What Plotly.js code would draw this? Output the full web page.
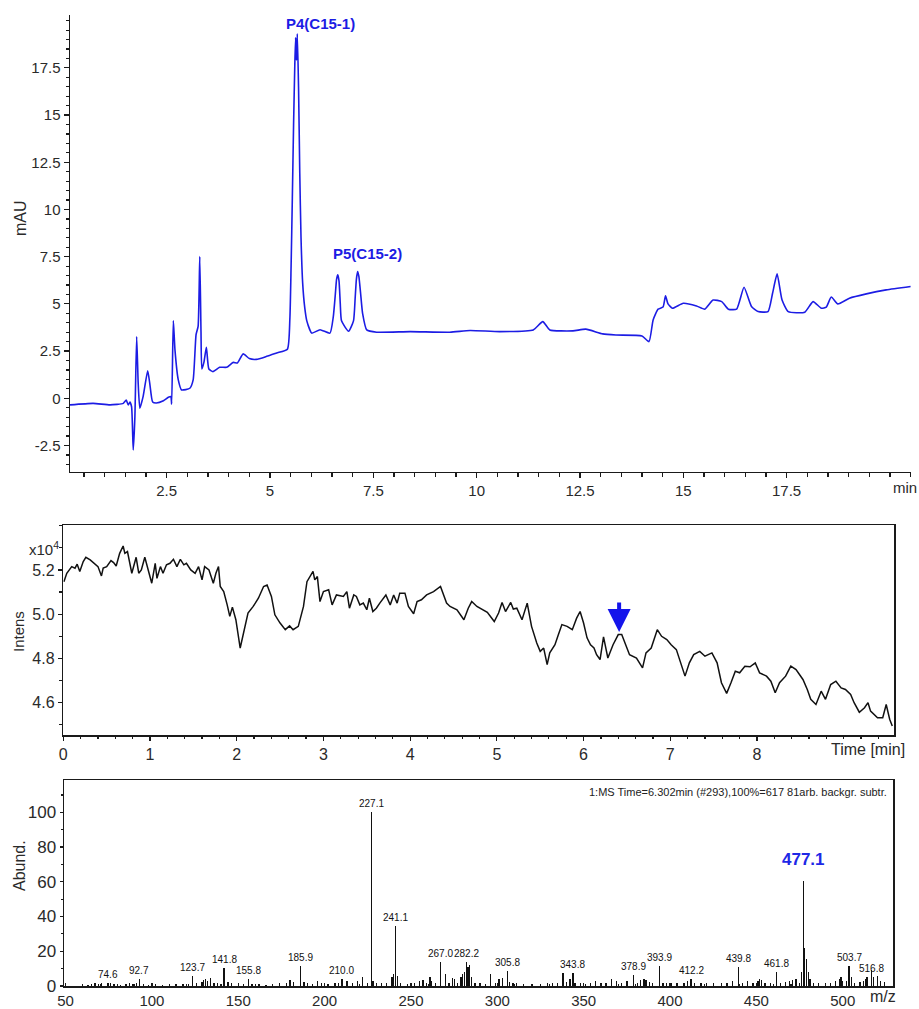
<!DOCTYPE html>
<html><head><meta charset="utf-8">
<script src="https://cdn.plot.ly/plotly-3.0.1.min.js"></script>
<style>html,body{margin:0;padding:0;background:#fff}#chart{width:919px;height:1009px}</style>
</head><body><div id="chart"></div>
<script>
// ---- Panel 1: UV chromatogram (mAU vs min) ----
const uvTime = [0.16,0.72,1.13,1.45,1.52,1.57,1.61,1.65,1.69,1.73,1.773,1.81,1.85,1.93,2.04,2.09,2.16,2.25,2.42,2.54,2.60,2.62,2.66,2.70,2.78,2.86,3.06,3.14,3.21,3.26,3.30,3.33,3.35,3.40,3.46,3.52,3.62,3.78,3.95,4.11,4.21,4.35,4.50,4.67,4.92,5.16,5.42,5.48,5.51,5.54,5.57,5.60,5.62,5.64,5.66,5.69,5.72,5.75,5.79,5.84,5.89,6.01,6.21,6.45,6.53,6.58,6.61,6.64,6.67,6.70,6.73,6.90,7.02,7.06,7.09,7.12,7.15,7.19,7.24,7.34,7.58,8.39,9.35,9.84,10.56,11.37,11.6,11.77,12.33,12.64,13.05,13.37,14.0,14.17,14.27,14.39,14.51,14.57,14.63,14.74,15.0,15.32,15.52,15.72,15.93,16.09,16.29,16.47,16.65,16.81,17.05,17.16,17.27,17.39,17.54,17.94,18.14,18.34,18.46,18.58,18.74,19.02,19.43,19.91,20.5];
const uvAbs = [-0.35,-0.27,-0.35,-0.27,-0.1,-0.36,-0.2,-0.45,-2.74,-1.0,3.27,0.8,-0.53,0.1,1.46,0.79,-0.2,-0.25,-0.13,0.05,0.09,-0.3,4.12,2.56,0.97,0.44,0.53,0.97,3.37,3.81,7.51,3.5,1.55,1.9,2.7,1.55,1.41,1.64,1.64,1.9,1.87,2.35,2.1,2.06,2.22,2.4,2.6,4.2,7.0,10.6,14.5,17.7,19.1,17.9,19.3,16.5,11.9,8.5,6.1,4.8,4.1,3.45,3.63,3.45,4.3,5.5,6.3,6.54,6.2,5.0,4.1,3.55,4.1,5.3,6.3,6.71,6.45,5.6,4.5,3.62,3.5,3.53,3.5,3.59,3.53,3.62,4.06,3.62,3.57,3.66,3.41,3.35,3.3,3.0,4.15,4.72,4.83,5.43,5.0,4.77,5.03,4.89,4.72,5.2,5.12,4.72,4.72,5.88,4.86,4.59,4.59,5.56,6.59,5.2,4.59,4.56,5.12,4.77,4.83,5.36,5.0,5.3,5.53,5.74,5.92];
const uvXTicks = [2.5,5,7.5,10,12.5,15,17.5];
const uvXTickText = ['2.5','5','7.5','10','12.5','15','17.5'];
const uvYTicks = [-2.5,0,2.5,5,7.5,10,12.5,15,17.5];
const uvYTickText = ['-2.5','0','2.5','5','7.5','10','12.5','15','17.5'];
const uvPeakLabels = [{t:6.21, v:19.85, text:'P4(C15-1)'}, {t:7.37, v:7.65, text:'P5(C15-2)'}];

// ---- Panel 2: TIC (Intens x10^4 vs Time [min]) ----
const ticTime = [0.007,0.04,0.097,0.135,0.16,0.19,0.23,0.26,0.31,0.35,0.40,0.44,0.46,0.50,0.55,0.58,0.61,0.65,0.69,0.71,0.74,0.79,0.84,0.87,0.90,0.94,0.98,1.02,1.06,1.08,1.12,1.15,1.19,1.23,1.27,1.31,1.35,1.39,1.42,1.47,1.52,1.56,1.60,1.63,1.68,1.73,1.76,1.79,1.81,1.85,1.89,1.92,1.95,1.99,2.04,2.08,2.13,2.19,2.25,2.31,2.35,2.40,2.44,2.50,2.56,2.61,2.65,2.71,2.77,2.81,2.85,2.88,2.90,2.93,2.96,3.00,3.06,3.10,3.15,3.23,3.27,3.30,3.35,3.38,3.42,3.46,3.50,3.53,3.57,3.61,3.65,3.72,3.77,3.81,3.85,3.88,3.94,3.98,4.04,4.08,4.13,4.19,4.27,4.35,4.42,4.46,4.54,4.62,4.67,4.71,4.77,4.83,4.89,4.97,5.02,5.06,5.10,5.16,5.19,5.23,5.29,5.35,5.40,5.46,5.50,5.54,5.58,5.61,5.67,5.71,5.75,5.81,5.87,5.92,5.96,6.00,6.04,6.08,6.12,6.15,6.19,6.23,6.28,6.34,6.40,6.44,6.48,6.53,6.61,6.68,6.72,6.78,6.85,6.90,6.96,7.01,7.07,7.12,7.17,7.22,7.27,7.34,7.40,7.48,7.54,7.59,7.65,7.70,7.75,7.80,7.86,7.92,7.98,8.03,8.11,8.16,8.21,8.26,8.33,8.39,8.45,8.53,8.58,8.62,8.68,8.74,8.79,8.85,8.91,8.97,9.02,9.08,9.12,9.18,9.24,9.28,9.31,9.39,9.45,9.49,9.53,9.56];
const ticIntens = [5.147,5.185,5.215,5.208,5.226,5.193,5.238,5.257,5.245,5.233,5.215,5.173,5.208,5.215,5.242,5.233,5.218,5.275,5.308,5.275,5.283,5.185,5.257,5.185,5.2,5.257,5.2,5.14,5.23,5.162,5.215,5.185,5.223,5.23,5.248,5.215,5.248,5.223,5.23,5.2,5.185,5.215,5.155,5.215,5.2,5.14,5.185,5.215,5.125,5.102,5.042,4.99,5.032,4.975,4.847,4.915,5.005,5.035,5.072,5.125,5.132,5.08,4.997,4.96,4.93,4.947,4.93,4.945,5.035,5.147,5.17,5.193,5.155,5.17,5.057,5.102,5.11,5.042,5.087,5.08,5.102,5.027,5.087,5.08,5.042,5.05,5.02,5.072,5.012,5.027,5.05,5.087,5.042,5.087,5.05,5.095,5.095,5.035,5.002,5.057,5.065,5.087,5.102,5.125,5.05,5.035,5.02,4.975,5.027,5.057,5.035,5.023,5.008,4.967,5.005,5.053,5.012,5.053,5.023,5.027,4.975,5.05,4.945,4.87,4.832,4.847,4.772,4.825,4.862,4.908,4.953,4.945,4.93,4.982,5.012,4.96,4.893,4.862,4.847,4.817,4.795,4.897,4.802,4.862,4.908,4.908,4.87,4.817,4.802,4.757,4.825,4.847,4.93,4.9,4.885,4.862,4.84,4.78,4.72,4.78,4.817,4.832,4.81,4.825,4.78,4.69,4.642,4.69,4.742,4.735,4.765,4.762,4.78,4.735,4.72,4.697,4.645,4.69,4.72,4.765,4.75,4.705,4.66,4.615,4.592,4.652,4.615,4.682,4.697,4.667,4.66,4.637,4.6,4.557,4.577,4.6,4.562,4.532,4.532,4.592,4.525,4.495];
const ticXTicks = [0,1,2,3,4,5,6,7,8];
const ticXTickText = ['0','1','2','3','4','5','6','7','8'];
const ticYTicks = [4.6,4.8,5.0,5.2];
const ticYTickText = ['4.6','4.8','5.0','5.2'];
const ticMarker = {t:6.41, v:4.92};

// ---- Panel 3: MS spectrum (Abund. vs m/z) ----
const msMz = [60,63,65,67,69,71,74.6,76,78,82,85,87,89,91,92.7,95,98,102,106,110,114,118,121,123.7,126,129,130,131,132,134,136,138,141.8,144,146,150,153,155.8,158,162,166,170,174,178,180,182,185.9,188,190,193,196,198,202,206,208,210.0,213,216,219,222,225,227.1,228,230,233,236,239,240,241.1,242,244,248,252,255,257,259,261,262,264,267.0,270,272,274,275,277,279,280,281,282.2,283,284,285,287,290,293,296,299,301,303,305.8,307,309,311,315,320,325,329,332,335,338,340,342,343.8,345,348,351,354,357,360,363,366,369,372,375,378.9,381,383,385,386,388,390,393.9,396,398,401,404,408,410,412.2,414,418,421,425,430,433,436,439.8,442,445,448,451,452,453,455,458,461.8,464,467,469,471,473,475,476,477.1,478,479,480,481,483,486,490,493,496,498,499,500,502,503.7,505,507,510,512,513,514,516.8,518,520,522,524];
const msAbund = [1,0.8,1.2,1.5,1.3,1.8,2,1.5,1.2,0.8,1.2,1.5,1,1.6,4,1,0.8,1,0.8,0.8,1,1.2,1,6,1.5,2.5,3.5,4,3,4.5,2,1.5,10.3,2.5,1.5,1,1.2,4.1,1,1,0.8,1,1.5,2,3.5,2.5,11.3,2.5,1.5,1,3,1.5,1,1.5,2,4,3,1.5,3,5,1.5,100,3,2,1.5,1.5,5,7,34.8,6,2,1,1.5,3,3.5,2,5,3,1.5,14,6.8,2,4.5,4,2,5,7,8,13.7,11,12.3,5,2,1.5,1,7,2,4,4.5,8.5,2.5,1.5,2,1,1,1,1.5,2,1.5,7.3,2.5,4,7.5,2,1.5,1,2,3,1.5,2,4,3,1.5,3,6.6,2,3.5,4,3.5,2.5,1.5,11.3,2,1.5,1.5,2,2,3,4,2,1.5,2,1.5,2,1.5,3,10.7,2,3,1.5,3,4,3.5,2,2,8,2,2.5,3,3.5,4,2,8,60.5,22,15.4,8,4,2,1.5,2,1.5,3,4,5,3,3,11.3,5,2,2.5,3,4,5,9,5,6,3,2.5];
const msLabelMz = [74.6,92.7,123.7,141.8,155.8,185.9,210.0,227.1,241.1,267.0,282.2,305.8,343.8,378.9,393.9,412.2,439.8,461.8,503.7,516.8];
const msLabelAbund = [2,4,6,10.3,4.1,11.3,4,100,34.8,14,13.7,8.5,7.5,6.6,11.3,4,10.7,8,11.3,5];
const msLabelText = ['74.6','92.7','123.7','141.8','155.8','185.9','210.0','227.1','241.1','267.0','282.2','305.8','343.8','378.9','393.9','412.2','439.8','461.8','503.7','516.8'];
const msXTicks = [50,100,150,200,250,300,350,400,450,500];
const msYTicks = [0,20,40,60,80,100];
const msMain = {mz:477.1, abund:66, text:'477.1'};
const msInfo = '1:MS Time=6.302min (#293),100%=617 81arb. backgr. subtr.';

// ---- figure ----
const W = 919, H = 1009;
const px = v => v / W;
const py = v => 1 - v / H;
const BLUE = 'rgb(28,28,228)';
const INK = '#1a1a1a';
const FONT = 'Arial, "Liberation Sans", Helvetica, sans-serif';

const traces = [
  {type:'scatter', mode:'lines', x:uvTime, y:uvAbs, xaxis:'x', yaxis:'y',
   line:{color:BLUE, width:1.6, shape:'spline', smoothing:0.5}, hoverinfo:'skip'},
  {type:'scatter', mode:'lines', x:ticTime, y:ticIntens, xaxis:'x2', yaxis:'y2',
   line:{color:'#111', width:1.5}, hoverinfo:'skip'},
  {type:'bar', x:msMz, y:msAbund, xaxis:'x3', yaxis:'y3', width:0.75,
   marker:{color:'#111', line:{width:0}}, hoverinfo:'skip'}
];

function axisBase(extra) {
  return Object.assign({
    showline:true, linecolor:INK, linewidth:1.5, ticks:'outside', tickcolor:INK,
    tickwidth:1.2, showgrid:false, zeroline:false, fixedrange:true,
    tickfont:{family:FONT, size:15, color:'#2a2a2a'}
  }, extra);
}

const annotations = [];
annotations.push({xref:'paper', yref:'paper', x:px(21), y:py(218), text:'mAU', textangle:-90,
  showarrow:false, xanchor:'center', yanchor:'middle', font:{family:FONT, size:16, color:'#2a2a2a'}});
annotations.push({xref:'paper', yref:'paper', x:px(905), y:py(488), text:'min',
  showarrow:false, xanchor:'center', yanchor:'middle', font:{family:FONT, size:15, color:'#2a2a2a'}});
annotations.push({xref:'paper', yref:'paper', x:px(18), y:py(632), text:'Intens', textangle:-90,
  showarrow:false, xanchor:'center', yanchor:'middle', font:{family:FONT, size:15, color:'#2a2a2a'}});
annotations.push({xref:'paper', yref:'paper', x:px(44), y:py(548), text:'x10<sup>4</sup>',
  showarrow:false, xanchor:'center', yanchor:'middle', font:{family:FONT, size:15, color:'#2a2a2a'}});
annotations.push({xref:'paper', yref:'paper', x:px(868), y:py(749), text:'Time [min]',
  showarrow:false, xanchor:'center', yanchor:'middle', font:{family:FONT, size:16, color:'#2a2a2a'}});
annotations.push({xref:'paper', yref:'paper', x:px(19), y:py(866), text:'Abund.', textangle:-90,
  showarrow:false, xanchor:'center', yanchor:'middle', font:{family:FONT, size:16, color:'#2a2a2a'}});
annotations.push({xref:'paper', yref:'paper', x:px(883), y:py(996), text:'m/z',
  showarrow:false, xanchor:'center', yanchor:'middle', font:{family:FONT, size:16, color:'#2a2a2a'}});
annotations.push({xref:'paper', yref:'paper', x:px(889), y:py(792), text:msInfo,
  showarrow:false, xanchor:'right', yanchor:'middle', font:{family:FONT, size:11, color:'#222'}});
uvPeakLabels.forEach(p => annotations.push({xref:'x', yref:'y', x:p.t, y:p.v, text:'<b>'+p.text+'</b>',
  showarrow:false, xanchor:'center', yanchor:'middle', font:{family:FONT, size:15, color:BLUE}}));
annotations.push({xref:'x2', yref:'y2', x:ticMarker.t, y:ticMarker.v, text:'', showarrow:true,
  ax:0, ay:-31, arrowhead:2, arrowsize:1.15, arrowwidth:4, arrowcolor:'rgb(20,20,235)', standoff:0});
msLabelMz.forEach((m, i) => annotations.push({xref:'x3', yref:'y3', x:m, y:msLabelAbund[i],
  text:msLabelText[i], showarrow:false, xanchor:'center', yanchor:'bottom', yshift:1,
  font:{family:FONT, size:10, color:'#111'}}));
annotations.push({xref:'x3', yref:'y3', x:msMain.mz, y:msMain.abund, text:'<b>'+msMain.text+'</b>',
  showarrow:false, xanchor:'center', yanchor:'bottom', font:{family:FONT, size:17, color:'rgb(30,40,230)'}});

const layout = {
  width:W, height:H, margin:{l:0, r:0, t:0, b:0},
  paper_bgcolor:'#fff', plot_bgcolor:'#fff', showlegend:false,
  font:{family:FONT, color:'#2a2a2a'}, bargap:0,
  xaxis: axisBase({domain:[px(70), px(911)], range:[0.16, 20.51], anchor:'y',
    tickmode:'array', tickvals:uvXTicks, ticktext:uvXTickText, ticklen:5,
    minor:{dtick:0.5, tick0:0, ticks:'outside', ticklen:3.5, tickcolor:INK, showgrid:false}}),
  yaxis: axisBase({domain:[py(471.7), py(15)], range:[-3.89, 20.3], anchor:'x',
    tickmode:'array', tickvals:uvYTicks, ticktext:uvYTickText, ticklen:5,
    minor:{dtick:0.5, tick0:0, ticks:'outside', ticklen:3, tickcolor:INK, showgrid:false}}),
  xaxis2: axisBase({domain:[px(63.3), px(894)], range:[0, 9.58], anchor:'y2', mirror:true,
    tickmode:'array', tickvals:ticXTicks, ticktext:ticXTickText, ticklen:4,
    tickfont:{family:FONT, size:16, color:'#2a2a2a'},
    minor:{dtick:0.2, tick0:0, ticks:'outside', ticklen:2.5, tickcolor:INK, showgrid:false}}),
  yaxis2: axisBase({domain:[py(735), py(525)], range:[4.454, 5.403], anchor:'x2', mirror:true,
    tickmode:'array', tickvals:ticYTicks, ticktext:ticYTickText, ticklen:4,
    tickfont:{family:FONT, size:16, color:'#2a2a2a'},
    minor:{dtick:0.1, tick0:0, ticks:'outside', ticklen:2.5, tickcolor:INK, showgrid:false}}),
  xaxis3: axisBase({domain:[px(64), px(893)], range:[49.1, 529.1], anchor:'y3', mirror:true,
    tickmode:'array', tickvals:msXTicks, ticks:'inside', ticklen:3,
    tickfont:{family:FONT, size:15, color:'#2a2a2a'},
    minor:{dtick:10, tick0:0, ticks:'inside', ticklen:2, tickcolor:INK, showgrid:false}}),
  yaxis3: axisBase({domain:[py(986), py(780)], range:[0, 118.6], anchor:'x3', mirror:true,
    tickmode:'array', tickvals:msYTicks, ticklen:3,
    tickfont:{family:FONT, size:17, color:'#2a2a2a'},
    minor:{dtick:10, tick0:0, ticks:'outside', ticklen:2, tickcolor:INK, showgrid:false}}),
  annotations: annotations
};

Plotly.newPlot('chart', traces, layout, {displayModeBar:false, staticPlot:true});
</script>
</body></html>
